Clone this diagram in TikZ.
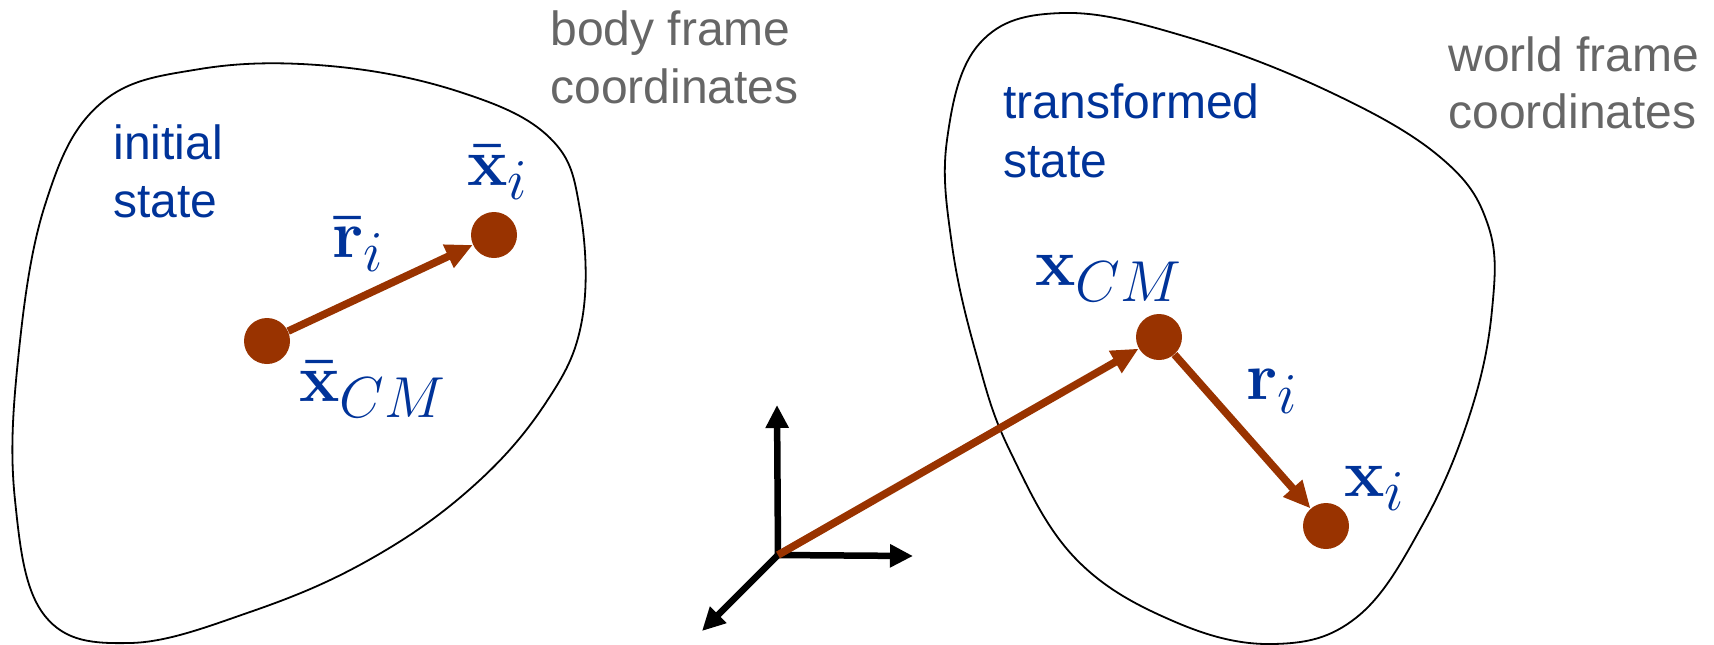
\RequirePackage{fix-cm}
\documentclass[tikz,border=0pt]{standalone}
\usepackage[no-math]{fontspec}
\setmainfont{Liberation Sans}
\usetikzlibrary{arrows.meta}
\def\defaultscriptratio{.85}
\definecolor{brn}{RGB}{153,51,0}
\definecolor{lblue}{RGB}{0,51,153}
\definecolor{lgray}{RGB}{102,102,102}
\tikzset{
  txt/.style={anchor=base west, inner sep=0pt, font=\fontsize{24}{29}\selectfont},
  mth/.style={anchor=base west, inner sep=0pt, text=lblue, font=\fontsize{34}{40}\selectfont},
  dot/.style={circle, fill=brn, minimum size=23pt, inner sep=0pt},
  brarrow/.style={draw=brn, line width=3.8pt, -{Triangle[length=13.5pt,width=12pt]}},
  axarrow/.style={draw=black, line width=3.25pt, -{Triangle[length=11.5pt,width=11pt]}},
  blob/.style={draw=black, line width=0.9pt}
}
\begin{document}
\begin{tikzpicture}[x=0.5pt,y=-0.5pt]
\useasboundingbox (0,0) rectangle (1714,644);
% left body outline
\draw[blob] plot[smooth cycle, tension=0.65] coordinates {
 (200,69) (330,66) (460,92) (550,138) (580,210) (582,320) (545,404) (470,489)
 (367,561) (250,612) (130,643) (45,616) (15,500) (18,360) (45,205) (100,104)};
% right body outline
\draw[blob] plot[smooth cycle, tension=0.65] coordinates {
 (1063,13) (1187,37) (1330,92) (1440,157) (1488,225) (1492,310) (1470,414) (1423,524)
 (1357,617) (1273,644) (1173,621) (1075,558) (1010,451) (977,357) (952,245) (947,140) (980,43)};
% text labels
\node[txt, text=lblue] (initA) at (113,159) {initial};
\node[txt, text=lblue] (initB) at (113,217) {state};
\node[txt, text=lgray] (bodyA) at (550,45) {body frame};
\node[txt, text=lgray] (bodyB) at (550,103) {coordinates};
\node[txt, text=lblue] (trA) at (1003,118) {transformed};
\node[txt, text=lblue] (trB) at (1003,177) {state};
\node[txt, text=lgray] (worldA) at (1448,71) {world frame};
\node[txt, text=lgray] (worldB) at (1448,128) {coordinates};
% math labels
\node[mth] (lxi) at (467,185) {$\mathbf{\bar{x}}_i$};
\node[mth] (lri) at (332,257) {$\mathbf{\bar{r}}_i$};
\node[mth] (lxcm) at (299,401) {$\mathbf{\bar{x}}_{CM}$};
\node[mth] (rxcm) at (1035,285) {$\mathbf{x}_{CM}$};
\node[mth] (rri) at (1246,399) {$\mathbf{r}_i$};
\node[mth] (rxi) at (1344,496) {$\mathbf{x}_i$};
% axes
\coordinate (o) at (778,555);
\coordinate (ay) at (777,405);
\coordinate (ax) at (913,556);
\coordinate (az) at (702,631);
\draw[axarrow] (o) -- (az);
\draw[axarrow, {Triangle[length=11.5pt,width=11pt]}-{Triangle[length=11.5pt,width=11pt]}] (ay) -- (o) -- (ax);
% points
\node[dot] (cmL) at (267,341) {};
\node[dot] (xiL) at (494,235) {};
\node[dot] (cmR) at (1159,337) {};
\node[dot] (xiR) at (1326,526) {};
% vectors
\draw[brarrow] (cmL) -- (xiL);
\draw[brarrow] (o) -- (cmR);
\draw[brarrow] (cmR) -- (xiR);
\end{tikzpicture}
\end{document}
